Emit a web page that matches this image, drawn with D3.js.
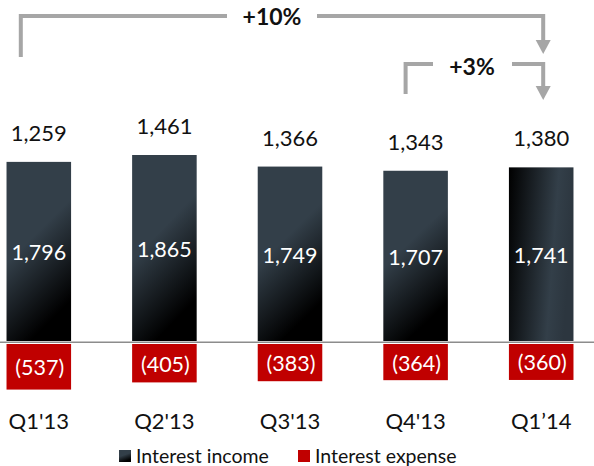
<!DOCTYPE html>
<html>
<head>
<meta charset="utf-8">
<script src="https://cdn.jsdelivr.net/npm/d3@7.9.0/dist/d3.min.js"></script>
<style>
  body { margin: 0; background: #fff; }
  svg { display: block; font-family: Lato, "Open Sans", sans-serif; }
</style>
</head>
<body>
<svg id="chart" width="594" height="466"></svg>
<script>
const quarters = ["Q1'13", "Q2'13", "Q3'13", "Q4'13", "Q1’14"];
const interestIncome = [1796, 1865, 1749, 1707, 1741];
const interestExpense = [537, 405, 383, 364, 360];
const netIncome = [1259, 1461, 1366, 1343, 1380];
const legendLabels = ["Interest income", "Interest expense"];
const growthLabels = ["+10%", "+3%"];

const svg = d3.select('#chart');
const fmt = d3.format(',');

const x = d3.scaleBand()
    .domain(quarters)
    .range([-24, 604])
    .paddingInner(0.486)
    .paddingOuter(0.243);

const yIncome = d3.scaleLinear().domain([0, 1865]).range([341, 155]);
// expense bars in the source are not drawn to the income scale
const yExpense = d3.scaleLinear().domain([0, 600]).range([360.4, 393]);
const expenseTop = 344;

const defs = svg.append('defs');
let g1 = defs.append('linearGradient').attr('id', 'incomeGrad')
    .attr('x1', 0).attr('y1', 0).attr('x2', 0.36).attr('y2', 1);
g1.append('stop').attr('offset', 0).attr('stop-color', '#333f49');
g1.append('stop').attr('offset', 0.5).attr('stop-color', '#333f49');
g1.append('stop').attr('offset', 1).attr('stop-color', '#000');

let g2 = defs.append('linearGradient').attr('id', 'incomeGradLast')
    .attr('x1', 0).attr('y1', 0).attr('x2', 1).attr('y2', 0.2);
g2.append('stop').attr('offset', 0).attr('stop-color', '#000');
g2.append('stop').attr('offset', 0.75).attr('stop-color', '#333f49');
g2.append('stop').attr('offset', 1).attr('stop-color', '#2c363f');

// income bars
svg.selectAll('rect.income')
    .data(quarters)
    .join('rect')
    .attr('class', 'income')
    .attr('x', (d) => x(d))
    .attr('y', (d, i) => yIncome(interestIncome[i]))
    .attr('width', x.bandwidth())
    .attr('height', (d, i) => yIncome(0) - yIncome(interestIncome[i]))
    .attr('fill', (d, i) => i === quarters.length - 1 ? 'url(#incomeGradLast)' : 'url(#incomeGrad)');

// expense bars
svg.selectAll('rect.expense')
    .data(quarters)
    .join('rect')
    .attr('class', 'expense')
    .attr('x', (d) => x(d))
    .attr('y', expenseTop)
    .attr('width', x.bandwidth())
    .attr('height', (d, i) => yExpense(interestExpense[i]) - expenseTop)
    .attr('fill', '#c00000');

// baseline
svg.append('line')
    .attr('x1', 0).attr('x2', 594)
    .attr('y1', yIncome(0) + 1.2).attr('y2', yIncome(0) + 1.2)
    .attr('stroke', '#8c8c8c').attr('stroke-width', 1.6);

// labels inside income bars
svg.selectAll('text.inc')
    .data(quarters)
    .join('text')
    .attr('x', (d) => x(d) + x.bandwidth() / 2)
    .attr('y', (d, i) => (yIncome(interestIncome[i]) + yIncome(0)) / 2 + 9)
    .attr('text-anchor', 'middle')
    .attr('font-size', 21.5)
    .attr('fill', '#fff')
    .text((d, i) => fmt(interestIncome[i]));

// labels inside expense bars
svg.selectAll('text.exp')
    .data(quarters)
    .join('text')
    .attr('x', (d) => x(d) + x.bandwidth() / 2 + 1)
    .attr('y', (d, i) => (expenseTop + yExpense(interestExpense[i])) / 2 + 8.5)
    .attr('text-anchor', 'middle')
    .attr('font-size', 21.5)
    .attr('fill', '#fff')
    .text((d, i) => `(${interestExpense[i]})`);

// net labels above bars
svg.selectAll('text.net')
    .data(quarters)
    .join('text')
    .attr('x', (d) => x(d) + x.bandwidth() / 2)
    .attr('y', (d, i) => yIncome(interestIncome[i]) - 21)
    .attr('text-anchor', 'middle')
    .attr('font-size', 22)
    .attr('fill', '#111')
    .text((d, i) => fmt(netIncome[i]));

// category axis
const xAxis = svg.append('g')
    .attr('transform', 'translate(0,429)')
    .call(d3.axisBottom(x).tickSize(0).tickPadding(0));
xAxis.select('.domain').remove();
xAxis.selectAll('text')
    .attr('dy', 0)
    .attr('font-family', 'Lato, sans-serif')
    .attr('font-size', 22)
    .attr('fill', '#111');

// growth brackets
const arrowColor = '#a6a6a6';
const lastMid = x(quarters[4]) + x.bandwidth() / 2 + 2;
const firstMid = x(quarters[0]) + x.bandwidth() / 2;
const q4Mid = x(quarters[3]) + x.bandwidth() / 2;

function arrowHead(cx, tipY) {
    svg.append('path')
        .attr('d', `M${cx - 7.5},${tipY - 14} L${cx + 7.5},${tipY - 14} L${cx},${tipY} Z`)
        .attr('fill', arrowColor);
}

svg.append('path')
    .attr('d', `M${firstMid - 18},57 V16 H227 M317,16 H${lastMid} V41`)
    .attr('fill', 'none').attr('stroke', arrowColor).attr('stroke-width', 4);
arrowHead(lastMid, 54);

svg.append('path')
    .attr('d', `M${q4Mid - 10},94 V64 H433 M512,64 H${lastMid} V87`)
    .attr('fill', 'none').attr('stroke', arrowColor).attr('stroke-width', 4);
arrowHead(lastMid, 100);

svg.append('text')
    .attr('x', 272).attr('y', 24.5)
    .attr('text-anchor', 'middle')
    .attr('font-size', 23).attr('font-weight', 'bold')
    .attr('fill', '#111')
    .text(growthLabels[0]);

svg.append('text')
    .attr('x', 472).attr('y', 74.5)
    .attr('text-anchor', 'middle')
    .attr('font-size', 23).attr('font-weight', 'bold')
    .attr('fill', '#111')
    .text(growthLabels[1]);

// legend
const legendX = [119, 298];
const legendFill = ['url(#incomeGrad)', '#c00000'];
legendLabels.forEach((label, i) => {
    let g = svg.append('g').attr('transform', `translate(${legendX[i]},450)`);
    g.append('rect').attr('width', 12).attr('height', 12).attr('fill', legendFill[i]);
    g.append('text')
        .attr('x', 17).attr('y', 12.5)
        .attr('font-size', 19.5)
        .attr('fill', '#111')
        .text(label);
});
</script>
</body>
</html>
